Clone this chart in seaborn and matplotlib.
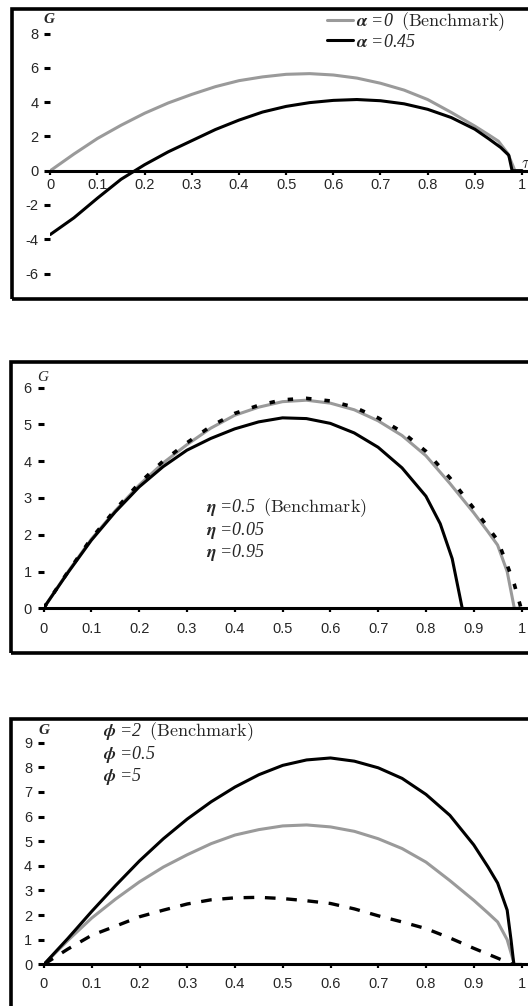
import matplotlib
matplotlib.use("Agg")
import matplotlib.pyplot as plt
import seaborn as sns
import pandas as pd
from matplotlib.patches import Rectangle

# ---------------- data ----------------
tau_ticks = [0, 0.1, 0.2, 0.3, 0.4, 0.5, 0.6, 0.7, 0.8, 0.9, 1.0]
tau_tick_labels = ["0", "0.1", "0.2", "0.3", "0.4", "0.5", "0.6", "0.7", "0.8", "0.9", "1"]

tau_bench = [0, 0.05, 0.1, 0.15, 0.2, 0.25, 0.3, 0.35, 0.4, 0.45, 0.5, 0.55, 0.6, 0.65,
             0.7, 0.75, 0.8, 0.85, 0.9, 0.93, 0.95, 0.97, 0.985, 1.0]
g_bench = [0, 0.97, 1.88, 2.65, 3.35, 3.95, 4.45, 4.9, 5.25, 5.47, 5.62, 5.66, 5.58, 5.4,
           5.1, 4.7, 4.15, 3.4, 2.6, 2.08, 1.72, 1.0, 0.0, 0.0]

tau_alpha045 = [0, 0.05, 0.1, 0.15, 0.2, 0.25, 0.3, 0.35, 0.4, 0.45, 0.5, 0.55, 0.6, 0.65,
                0.7, 0.75, 0.8, 0.85, 0.9, 0.93, 0.955, 0.972, 0.979, 1.0]
g_alpha045 = [-3.72, -2.75, -1.6, -0.5, 0.35, 1.1, 1.75, 2.4, 2.95, 3.42, 3.75, 3.97, 4.1, 4.15,
              4.08, 3.9, 3.58, 3.1, 2.42, 1.85, 1.35, 0.9, 0.0, 0.0]

tau_eta005 = [0, 0.05, 0.1, 0.15, 0.2, 0.25, 0.3, 0.35, 0.4, 0.45, 0.5, 0.55, 0.6, 0.65,
              0.7, 0.75, 0.8, 0.83, 0.855, 0.876]
g_eta005 = [0, 0.95, 1.85, 2.62, 3.3, 3.85, 4.3, 4.62, 4.88, 5.07, 5.18, 5.16, 5.03, 4.77,
            4.38, 3.82, 3.05, 2.3, 1.35, 0.0]

tau_eta095 = [0, 0.05, 0.1, 0.15, 0.2, 0.25, 0.3, 0.35, 0.4, 0.45, 0.5, 0.55, 0.6, 0.65,
              0.7, 0.75, 0.8, 0.85, 0.9, 0.93, 0.95, 0.97, 0.985, 0.998]
g_eta095 = [0, 0.97, 1.9, 2.68, 3.4, 4.0, 4.5, 4.95, 5.3, 5.52, 5.67, 5.71, 5.64, 5.47,
            5.18, 4.8, 4.27, 3.55, 2.72, 2.2, 1.85, 1.18, 0.65, 0.05]

tau_phi05 = [0, 0.05, 0.1, 0.15, 0.2, 0.25, 0.3, 0.35, 0.4, 0.45, 0.5, 0.55, 0.6, 0.65,
             0.7, 0.75, 0.8, 0.85, 0.9, 0.93, 0.95, 0.97, 0.978, 0.984]
g_phi05 = [0, 1.05, 2.15, 3.2, 4.2, 5.1, 5.9, 6.6, 7.2, 7.7, 8.08, 8.3, 8.38, 8.25,
           7.98, 7.55, 6.9, 6.05, 4.85, 3.95, 3.3, 2.2, 1.0, 0.0]

tau_phi5 = [0, 0.05, 0.1, 0.15, 0.2, 0.25, 0.3, 0.35, 0.4, 0.45, 0.5, 0.55, 0.6, 0.65,
            0.7, 0.75, 0.8, 0.85, 0.9, 0.95, 0.98]
g_phi5 = [0, 0.62, 1.18, 1.55, 1.93, 2.2, 2.45, 2.62, 2.7, 2.72, 2.67, 2.58, 2.47, 2.25,
          1.97, 1.72, 1.45, 1.07, 0.65, 0.25, 0.0]

yticks_1 = [-6, -4, -2, 0, 2, 4, 6, 8]
yticks_2 = [0, 1, 2, 3, 4, 5, 6]
yticks_3 = [0, 1, 2, 3, 4, 5, 6, 7, 8, 9]

lab_a0 = r"$\boldsymbol{\alpha}$ =0  $\mathrm{(Benchmark)}$"
lab_a045 = r"$\boldsymbol{\alpha}$ =0.45"
lab_e05 = r"$\boldsymbol{\eta}$ =0.5  $\mathrm{(Benchmark)}$"
lab_e005 = r"$\boldsymbol{\eta}$ =0.05"
lab_e095 = r"$\boldsymbol{\eta}$ =0.95"
lab_p2 = r"$\boldsymbol{\phi}$ =2  $\mathrm{(Benchmark)}$"
lab_p05 = r"$\boldsymbol{\phi}$ =0.5"
lab_p5 = r"$\boldsymbol{\phi}$ =5"

# ---------------- style ----------------
sns.set_style("white")
plt.rcParams["font.family"] = ["Liberation Sans", "DejaVu Sans"]
plt.rcParams["mathtext.fontset"] = "cm"

W, H = 528, 1006
fig = plt.figure(figsize=(W / 100, H / 100), dpi=100)
fig.patch.set_facecolor("white")

GRAY = "#9a9a9a"
LW = 2.2
TICK_FS = 10.5
LEG_FS = 13
LEG_PROP = {"family": ["Liberation Serif", "DejaVu Serif"], "style": "italic", "size": LEG_FS}


def add_axes_px(x0px, x1px, va, pa, vb, pb, xlim, ylim):
    sx = x1px - x0px
    sy = (pb - pa) / (va - vb)
    left = x0px + xlim[0] * sx
    right = x0px + xlim[1] * sx
    top = pa + (va - ylim[1]) * sy
    bot = pa + (va - ylim[0]) * sy
    ax = fig.add_axes([left / W, 1 - bot / H, (right - left) / W, (bot - top) / H])
    ax.set_xlim(*xlim)
    ax.set_ylim(*ylim)
    return ax


def frame_px(x0, y0, x1, y1):
    fig.add_artist(Rectangle((x0 / W, 1 - y1 / H), (x1 - x0) / W, (y1 - y0) / H,
                             transform=fig.transFigure, fill=False, ec="black", lw=2.6))


def style_axes(ax, yticks, xpad, ypad=4):
    for s in ["left", "top", "right"]:
        ax.spines[s].set_visible(False)
    ax.spines["bottom"].set_position(("data", 0))
    ax.spines["bottom"].set_linewidth(2.2)
    ax.spines["bottom"].set_color("black")
    ax.set_xticks(tau_ticks)
    ax.set_xticklabels(tau_tick_labels)
    ax.set_yticks(yticks)
    ax.set_yticklabels([str(v) for v in yticks])
    ax.tick_params(axis="x", direction="out", length=3, width=1.6, color="black",
                   pad=xpad, labelsize=TICK_FS, bottom=True)
    ax.tick_params(axis="y", direction="out", length=4.5, width=2.2, color="black",
                   pad=ypad, labelsize=TICK_FS, left=True)
    ax.set_xlabel("")
    ax.set_ylabel("")
    ax.patch.set_alpha(0)


def text_legend(ax, x_px, y_px, spacing):
    leg = ax.legend(loc="upper left", bbox_to_anchor=(x_px / W, 1 - y_px / H),
                    bbox_transform=fig.transFigure, frameon=False, prop=LEG_PROP,
                    handlelength=0, handletextpad=0, borderpad=0, borderaxespad=0,
                    labelspacing=spacing)
    for h in leg.legend_handles:
        h.set_visible(False)
    return leg


# ---------------- panel 1 ----------------
frame_px(11.5, 8.5, 560, 299)
ax1 = add_axes_px(50.3, 522, 0, 170.7, 8, 33.5, (0, 1.03), (-6.3, 8.3))
sns.lineplot(x=tau_bench, y=g_bench, ax=ax1, color=GRAY, lw=LW, label=lab_a0, sort=False)
sns.lineplot(x=tau_alpha045, y=g_alpha045, ax=ax1, color="black", lw=LW, label=lab_a045, sort=False)
style_axes(ax1, yticks_1, xpad=2.5)
ax1.legend(loc="upper left", bbox_to_anchor=(327 / W, 1 - 10 / H), bbox_transform=fig.transFigure,
           frameon=False, prop=LEG_PROP, handlelength=1.45, handletextpad=0.15,
           borderpad=0, borderaxespad=0, labelspacing=0.05)
fig.text(49 / W, 1 - 19.5 / H, "G", ha="center", va="center", fontsize=11,
         family="Liberation Serif", style="italic", weight="bold")
fig.text(521 / W, 1 - 163 / H, r"$\tau$", ha="left", va="center", fontsize=12)

# ---------------- panel 2 ----------------
frame_px(11, 362, 560, 652.5)
ax2 = add_axes_px(43.5, 521.5, 0, 608.3, 6, 387.7, (0, 1.03), (-0.2, 6.15))
sns.lineplot(x=tau_bench, y=g_bench, ax=ax2, color=GRAY, lw=LW, label=lab_e05, sort=False)
sns.lineplot(x=tau_eta005, y=g_eta005, ax=ax2, color="black", lw=LW, label=lab_e005, sort=False)
sns.lineplot(x=tau_eta095, y=g_eta095, ax=ax2, color="black", lw=2.6,
             linestyle=(0, (1.5, 3.6)), label=lab_e095, sort=False)
style_axes(ax2, yticks_2, xpad=7)
text_legend(ax2, 206, 496, 0.05)
fig.text(42.5 / W, 1 - 377 / H, "G", ha="center", va="center", fontsize=11,
         family="Liberation Serif", style="italic")

# ---------------- panel 3 ----------------
frame_px(11, 719, 560, 1020)
ax3 = add_axes_px(44, 521.5, 0, 964.3, 9, 742.7, (0, 1.03), (-0.15, 9.2))
sns.lineplot(x=tau_bench, y=g_bench, ax=ax3, color=GRAY, lw=LW, label=lab_p2, sort=False)
sns.lineplot(x=tau_phi05, y=g_phi05, ax=ax3, color="black", lw=LW, label=lab_p05, sort=False)
sns.lineplot(x=tau_phi5, y=g_phi5, ax=ax3, color="black", lw=2.4,
             linestyle=(0, (3.2, 3.2)), label=lab_p5, sort=False)
style_axes(ax3, yticks_3, xpad=6)
text_legend(ax3, 103, 720, 0.05)
fig.text(44 / W, 1 - 731 / H, "G", ha="center", va="center", fontsize=11,
         family="Liberation Serif", style="italic", weight="bold")

fig.savefig("out.png", dpi=100, facecolor="white")
